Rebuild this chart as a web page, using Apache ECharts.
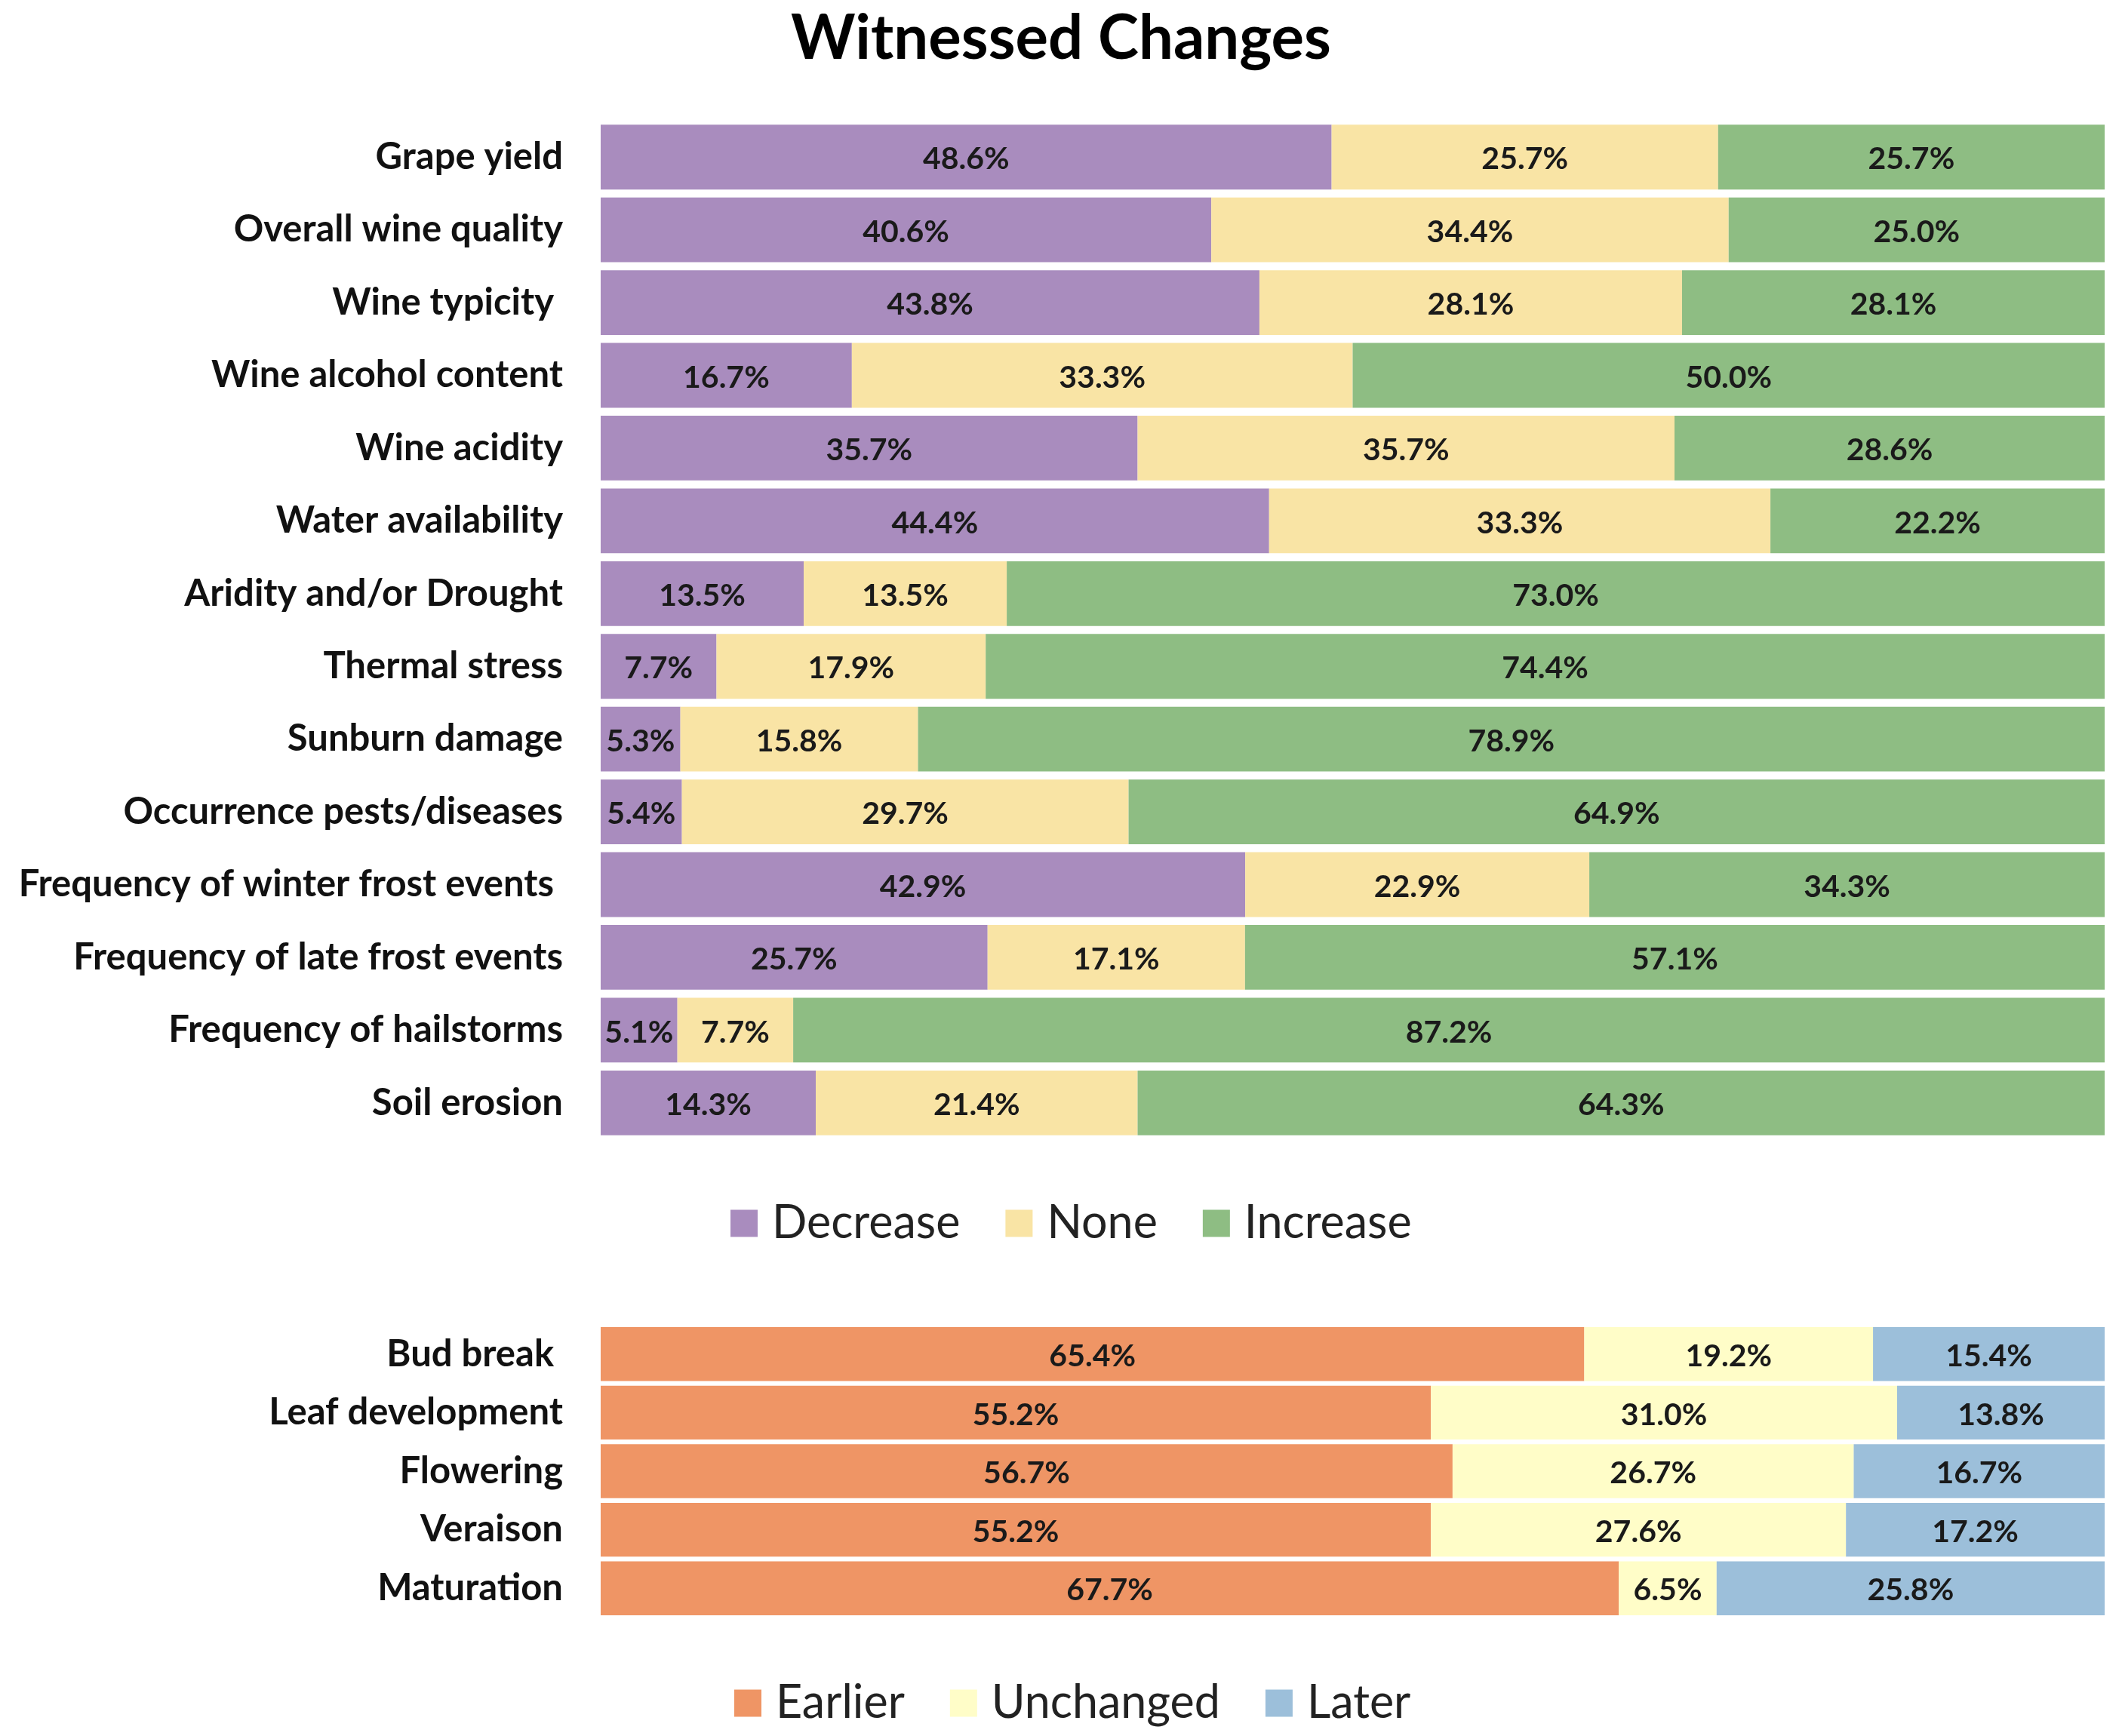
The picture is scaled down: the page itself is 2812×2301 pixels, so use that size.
<!DOCTYPE html>
<html>
<head>
<meta charset="utf-8">
<script src="https://cdn.jsdelivr.net/npm/echarts@6/dist/echarts.min.js"></script>
<style>
html,body{margin:0;padding:0;background:#fff;}
#c{width:2812px;height:2301px;}
</style>
</head>
<body>
<div id="c"></div>
<script>
const topCategories = ['Grape yield','Overall wine quality','Wine typicity ','Wine alcohol content','Wine acidity','Water availability','Aridity and/or Drought','Thermal stress','Sunburn damage','Occurrence pests/diseases','Frequency of winter frost events ','Frequency of late frost events','Frequency of hailstorms','Soil erosion'];
const decrease = [48.6,40.6,43.8,16.7,35.7,44.4,13.5,7.7,5.3,5.4,42.9,25.7,5.1,14.3];
const none     = [25.7,34.4,28.1,33.3,35.7,33.3,13.5,17.9,15.8,29.7,22.9,17.1,7.7,21.4];
const increase = [25.7,25.0,28.1,50.0,28.6,22.2,73.0,74.4,78.9,64.9,34.3,57.1,87.2,64.3];

const bottomCategories = ['Bud break ','Leaf development','Flowering','Veraison','Maturation'];
const earlier   = [65.4,55.2,56.7,55.2,67.7];
const unchanged = [19.2,31.0,26.7,27.6,6.5];
const later     = [15.4,13.8,16.7,17.2,25.8];

const FONT = 'Lato';
function norm(arr, groups, i){ const s = groups.reduce((a,g)=>a+g[i],0); return arr[i]/s*100; }
function makeSeries(name, arr, groups, color, idx){
  return {
    name, type:'bar', stack:'s'+idx, xAxisIndex:idx, yAxisIndex:idx,
    barCategoryGap: idx===0 ? '11%' : '8%',
    data: arr.map((v,i)=>norm(arr,groups,i)),
    itemStyle:{color},
    label:{show:true, position:'inside', color:'#1a1a1a', fontFamily:FONT, fontWeight:'bold', fontSize:41,
      offset:[0,3], formatter:p=>arr[p.dataIndex].toFixed(1)+'%'},
    emphasis:{disabled:true}
  };
}
const g1 = [decrease,none,increase];
const g2 = [earlier,unchanged,later];
const chart = echarts.init(document.getElementById('c'), null, {renderer:'canvas'});
const yAxisCommon = {type:'category', inverse:true, axisLine:{show:false}, axisTick:{show:false},
  axisLabel:{fontFamily:FONT, fontWeight:'bold', fontSize:49, color:'#111', margin:50}};
const xAxisCommon = {type:'value', min:0, max:100, show:false, splitLine:{show:false}};
chart.setOption({
  backgroundColor:'#fff',
  animation:false,
  title:{text:'Witnessed Changes', left:'center', top:6,
    textStyle:{fontFamily:FONT, fontWeight:'bold', fontSize:81.5, color:'#000'}},
  grid:[
    {left:796, right:23, top:160, height:1350},
    {left:796, right:23, top:1756, height:388}
  ],
  xAxis:[Object.assign({gridIndex:0}, xAxisCommon), Object.assign({gridIndex:1}, xAxisCommon)],
  yAxis:[Object.assign({gridIndex:0, data:topCategories}, yAxisCommon),
         Object.assign({gridIndex:1, data:bottomCategories}, yAxisCommon)],
  legend:[
    {data:['Decrease','None','Increase'], left:963, top:1586, icon:'rect', itemWidth:36, itemHeight:36,
      itemGap:60, textStyle:{fontFamily:FONT, fontSize:61, color:'#222', padding:[0,0,0,14]}, selectedMode:false},
    {data:['Earlier','Unchanged','Later'], left:968, top:2222, icon:'rect', itemWidth:36, itemHeight:36,
      itemGap:60, textStyle:{fontFamily:FONT, fontSize:61, color:'#222', padding:[0,0,0,14]}, selectedMode:false}
  ],
  series:[
    makeSeries('Decrease', decrease, g1, '#A98CBE', 0),
    makeSeries('None', none, g1, '#F9E4A5', 0),
    makeSeries('Increase', increase, g1, '#8EBD83', 0),
    makeSeries('Earlier', earlier, g2, '#EF9565', 1),
    makeSeries('Unchanged', unchanged, g2, '#FFFDC8', 1),
    makeSeries('Later', later, g2, '#9CBFDA', 1)
  ]
});
</script>
</body>
</html>
